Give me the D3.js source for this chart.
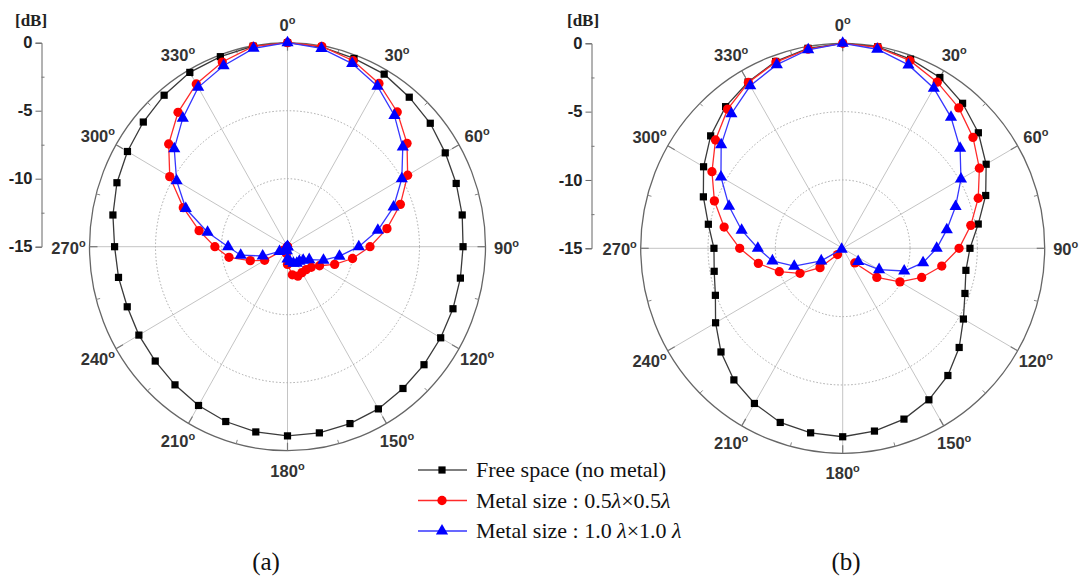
<!DOCTYPE html>
<html><head><meta charset="utf-8">
<script src="https://cdn.jsdelivr.net/npm/d3@7"></script>
<style>body{margin:0;background:#fff}svg{display:block}</style>
</head><body>
<svg id="c" width="1083" height="585"></svg>
<script>
// ---- data ----
const angles = [0,10,20,30,40,50,60,70,80,90,100,110,120,130,140,150,160,170,180,190,200,210,220,230,240,250,260,270,280,290,300,310,320,330,340,350];
const angleTicks = [0,30,60,90,120,150,180,210,240,270,300,330];
const radialTicks = [0,-5,-10,-15];
const radialMinor = [-2.5,-7.5,-12.5];
const gridRings = [-10,-5];
// legend text parts: [plain, italic, plain, italic]
const seriesNames = ["Free space (no metal)", "Metal size : 0.5\u03bb\u00d70.5\u03bb", "Metal size : 1.0 \u03bb\u00d71.0 \u03bb"];
const panelLabels = ["(a)", "(b)"];

// (a)
const freeA = [0,-0.09,-0.27,-0.35,-0.65,-0.88,-1.2,-1.4,-1.56,-1.7,-1.7,-1.66,-1.6,-1.5,-1.39,-1.23,-1.16,-1.1,-1.09,-1.17,-1.32,-1.52,-1.74,-1.92,-2.0,-2.08,-2.0,-1.9,-1.57,-1.25,-1.0,-0.74,-0.46,-0.2,-0.13,-0.03];
const redA  = [0,-0.04,-0.45,-1.14,-2.07,-3.18,-4.49,-5.9,-7.35,-8.75,-10.0,-11.2,-12.2,-12.65,-12.8,-12.8,-12.7,-12.9,-13.7,-14.5,-15,-15,-15,-14.6,-13.0,-12.0,-10.5,-9.5,-8.2,-6.6,-4.7,-3.25,-2.1,-1.18,-0.55,-0.05];
const blueA = [0,-0.2,-0.67,-1.37,-2.4,-3.6,-5.0,-6.45,-8.05,-9.6,-11.0,-12.1,-13.1,-13.45,-13.6,-13.6,-13.7,-13.9,-14.1,-14.7,-15,-15,-15,-14.8,-14.3,-13.0,-11.4,-10.5,-8.85,-6.8,-5.3,-3.8,-2.66,-1.47,-0.84,-0.19];
// (b)
const freeB = [0,-0.03,-0.27,-0.57,-1.15,-1.85,-2.7,-3.7,-4.78,-5.55,-5.71,-5.34,-4.65,-3.71,-2.85,-2.2,-1.7,-1.42,-1.21,-1.29,-1.44,-1.89,-2.43,-3.2,-4.1,-4.94,-5.31,-5.44,-4.87,-3.99,-3.07,-2.2,-1.47,-0.95,-0.45,-0.14];
const redB  = [0,-0.07,-0.39,-0.96,-1.59,-2.37,-3.28,-4.29,-5.34,-6.36,-7.53,-8.76,-10.09,-11.69,-13.6,null,null,null,null,null,null,null,-14.4,-12.8,-11.34,-9.99,-8.64,-7.35,-6.06,-4.86,-3.79,-2.67,-1.71,-0.99,-0.5,-0.2];
const blueB = [0,-0.21,-0.72,-1.47,-2.49,-3.62,-4.86,-6.08,-7.15,-8.02,-8.94,-10.14,-11.88,-13.5,null,null,null,null,null,null,null,null,null,-14.9,-13.16,-11.17,-9.7,-8.7,-7.38,-6.02,-4.56,-3.22,-2.14,-1.27,-0.7,-0.25];

// ---- styles ----
const styles = [
  {line:"#3a3a3a", fill:"#000", sym:d3.symbolSquare, size:52},
  {line:"#ff2a2a", fill:"#ff0000", sym:d3.symbolCircle, size:68},
  {line:"#3636ff", fill:"#0000ff", sym:d3.symbolTriangle, size:64}
];
const panels = [
  {cx:287.5, cy:246.7, rx:198, ry:204, axisX:41.5, dbX:32, label:266, series:[freeA, redA, blueA]},
  {cx:842.7, cy:248.3, rx:202, ry:205, axisX:591.5, dbX:584, label:846, series:[freeB, redB, blueB]}
];

const svg = d3.select("#c");
const SANS = "'Liberation Sans', Arial, sans-serif";
const SERIF = "'Liberation Serif', 'Times New Roman', serif";

const rScale = d3.scaleLinear().domain([-15,0]).range([0,1]).clamp(true);
const aScale = d3.scaleLinear().domain([0,360]).range([0, 2*Math.PI]);

panels.forEach((p, pi) => {
  const g = svg.append("g");
  const X = (a, f) => p.cx + p.rx * f * Math.sin(aScale(a));
  const Y = (a, f) => p.cy - p.ry * f * Math.cos(aScale(a));

  // spokes
  g.selectAll(".spoke").data(angleTicks).join("line")
    .attr("x1", p.cx).attr("y1", p.cy)
    .attr("x2", a => X(a, 1)).attr("y2", a => Y(a, 1))
    .attr("stroke", "#c4c4c4").attr("stroke-width", 1);
  // grid rings (dotted)
  g.selectAll(".ring").data(gridRings).join("ellipse")
    .attr("cx", p.cx).attr("cy", p.cy)
    .attr("rx", v => p.rx * rScale(v)).attr("ry", v => p.ry * rScale(v))
    .attr("fill", "none").attr("stroke", "#a8a8a8").attr("stroke-width", 1)
    .attr("stroke-dasharray", "1.5,2");
  // outer ring
  g.append("ellipse").attr("cx", p.cx).attr("cy", p.cy)
    .attr("rx", p.rx * rScale(0)).attr("ry", p.ry * rScale(0))
    .attr("fill", "none").attr("stroke", "#666").attr("stroke-width", 1.3);
  // ring ticks
  g.selectAll(".mt").data(angleTicks).join("line")
    .attr("x1", a => X(a, 1)).attr("y1", a => Y(a, 1))
    .attr("x2", a => X(a, 1 - 8/p.rx)).attr("y2", a => Y(a, 1 - 8/p.ry))
    .attr("stroke", "#777").attr("stroke-width", 1.2);
  g.selectAll(".nt").data(angleTicks).join("line")
    .attr("x1", a => X(a + 15, 1)).attr("y1", a => Y(a + 15, 1))
    .attr("x2", a => X(a + 15, 1 - 4/p.rx)).attr("y2", a => Y(a + 15, 1 - 4/p.ry))
    .attr("stroke", "#888").attr("stroke-width", 1);

  // angle labels
  const lab = g.selectAll(".al").data(angleTicks).join("text")
    .attr("x", a => p.cx + (p.rx + 21) * Math.sin(aScale(a)))
    .attr("y", a => p.cy - (p.ry + 19) * Math.cos(aScale(a)) + 7)
    .attr("text-anchor", "middle")
    .attr("font-family", SANS).attr("font-weight", "bold").attr("font-size", 16.5)
    .attr("fill", "#333");
  lab.append("tspan").text(a => a);
  lab.append("tspan").attr("font-size", 11).attr("dy", -7).text("o");

  // radial axis
  const yAx = d3.scaleLinear().domain([-15, 0]).range([p.cy, p.cy - p.ry]);
  const ax = g.append("g").attr("transform", `translate(${p.axisX},0)`)
    .call(d3.axisLeft(yAx).tickValues(radialTicks).tickSize(6).tickPadding(3).tickFormat(d => String(d)));
  ax.select(".domain").attr("stroke", "#666");
  ax.selectAll(".tick line").attr("stroke", "#666");
  ax.selectAll(".tick text").attr("font-family", SANS).attr("font-weight", "bold")
    .attr("font-size", 16.5).attr("fill", "#222");
  const ax2 = g.append("g").attr("transform", `translate(${p.axisX},0)`)
    .call(d3.axisRight(yAx).tickValues(radialMinor).tickSize(3).tickFormat(""));
  ax2.select(".domain").remove();
  ax2.selectAll(".tick line").attr("stroke", "#777");
  g.append("text").attr("x", p.dbX - 17).attr("y", 26)
    .attr("font-family", SERIF).attr("font-weight", "bold").attr("font-size", 17)
    .attr("fill", "#222").text("[dB]");

  // series
  p.series.forEach((vals, si) => {
    const st = styles[si];
    const pts = angles.map((a, i) => ({a, v: vals[i]}));
    const closed = pts.concat([{a: 360, v: vals[0]}]);
    const line = d3.line().defined(d => d.v !== null)
      .x(d => X(d.a, rScale(d.v))).y(d => Y(d.a, rScale(d.v)));
    g.append("path").datum(closed).attr("d", line)
      .attr("fill", "none").attr("stroke", st.line).attr("stroke-width", 1.3);
    g.selectAll(".m" + si).data(pts.filter(d => d.v !== null)).join("path")
      .attr("transform", d => `translate(${X(d.a, rScale(d.v))},${Y(d.a, rScale(d.v))})`)
      .attr("d", d3.symbol().type(st.sym).size(st.size))
      .attr("fill", st.fill);
  });

  // panel label
  svg.append("text").attr("x", p.label).attr("y", 570)
    .attr("text-anchor", "middle").attr("font-family", SERIF).attr("font-size", 25)
    .attr("fill", "#111").text(panelLabels[pi]);
});

// legend
const legY = d3.scalePoint().domain(seriesNames).range([470, 531]);
const lg = svg.append("g");
seriesNames.forEach((name, i) => {
  const st = styles[i];
  const y = legY(name);
  lg.append("line").attr("x1", 418).attr("x2", 467).attr("y1", y).attr("y2", y)
    .attr("stroke", i === 0 ? "#555" : st.line).attr("stroke-width", 1.3);
  lg.append("path").attr("transform", `translate(442,${y})`)
    .attr("d", d3.symbol().type(st.sym).size(st.size)).attr("fill", st.fill);
  const t = lg.append("text").attr("x", 476).attr("y", y + 7)
    .attr("font-family", SERIF).attr("font-size", 22).attr("fill", "#111");
  // render lambda glyphs in italic, like the reference
  name.split(/(\u03bb)/).forEach(part => {
    if (!part) return;
    const ts = t.append("tspan").text(part);
    if (part === "\u03bb") ts.attr("font-style", "italic");
  });
});
</script>
</body></html>
